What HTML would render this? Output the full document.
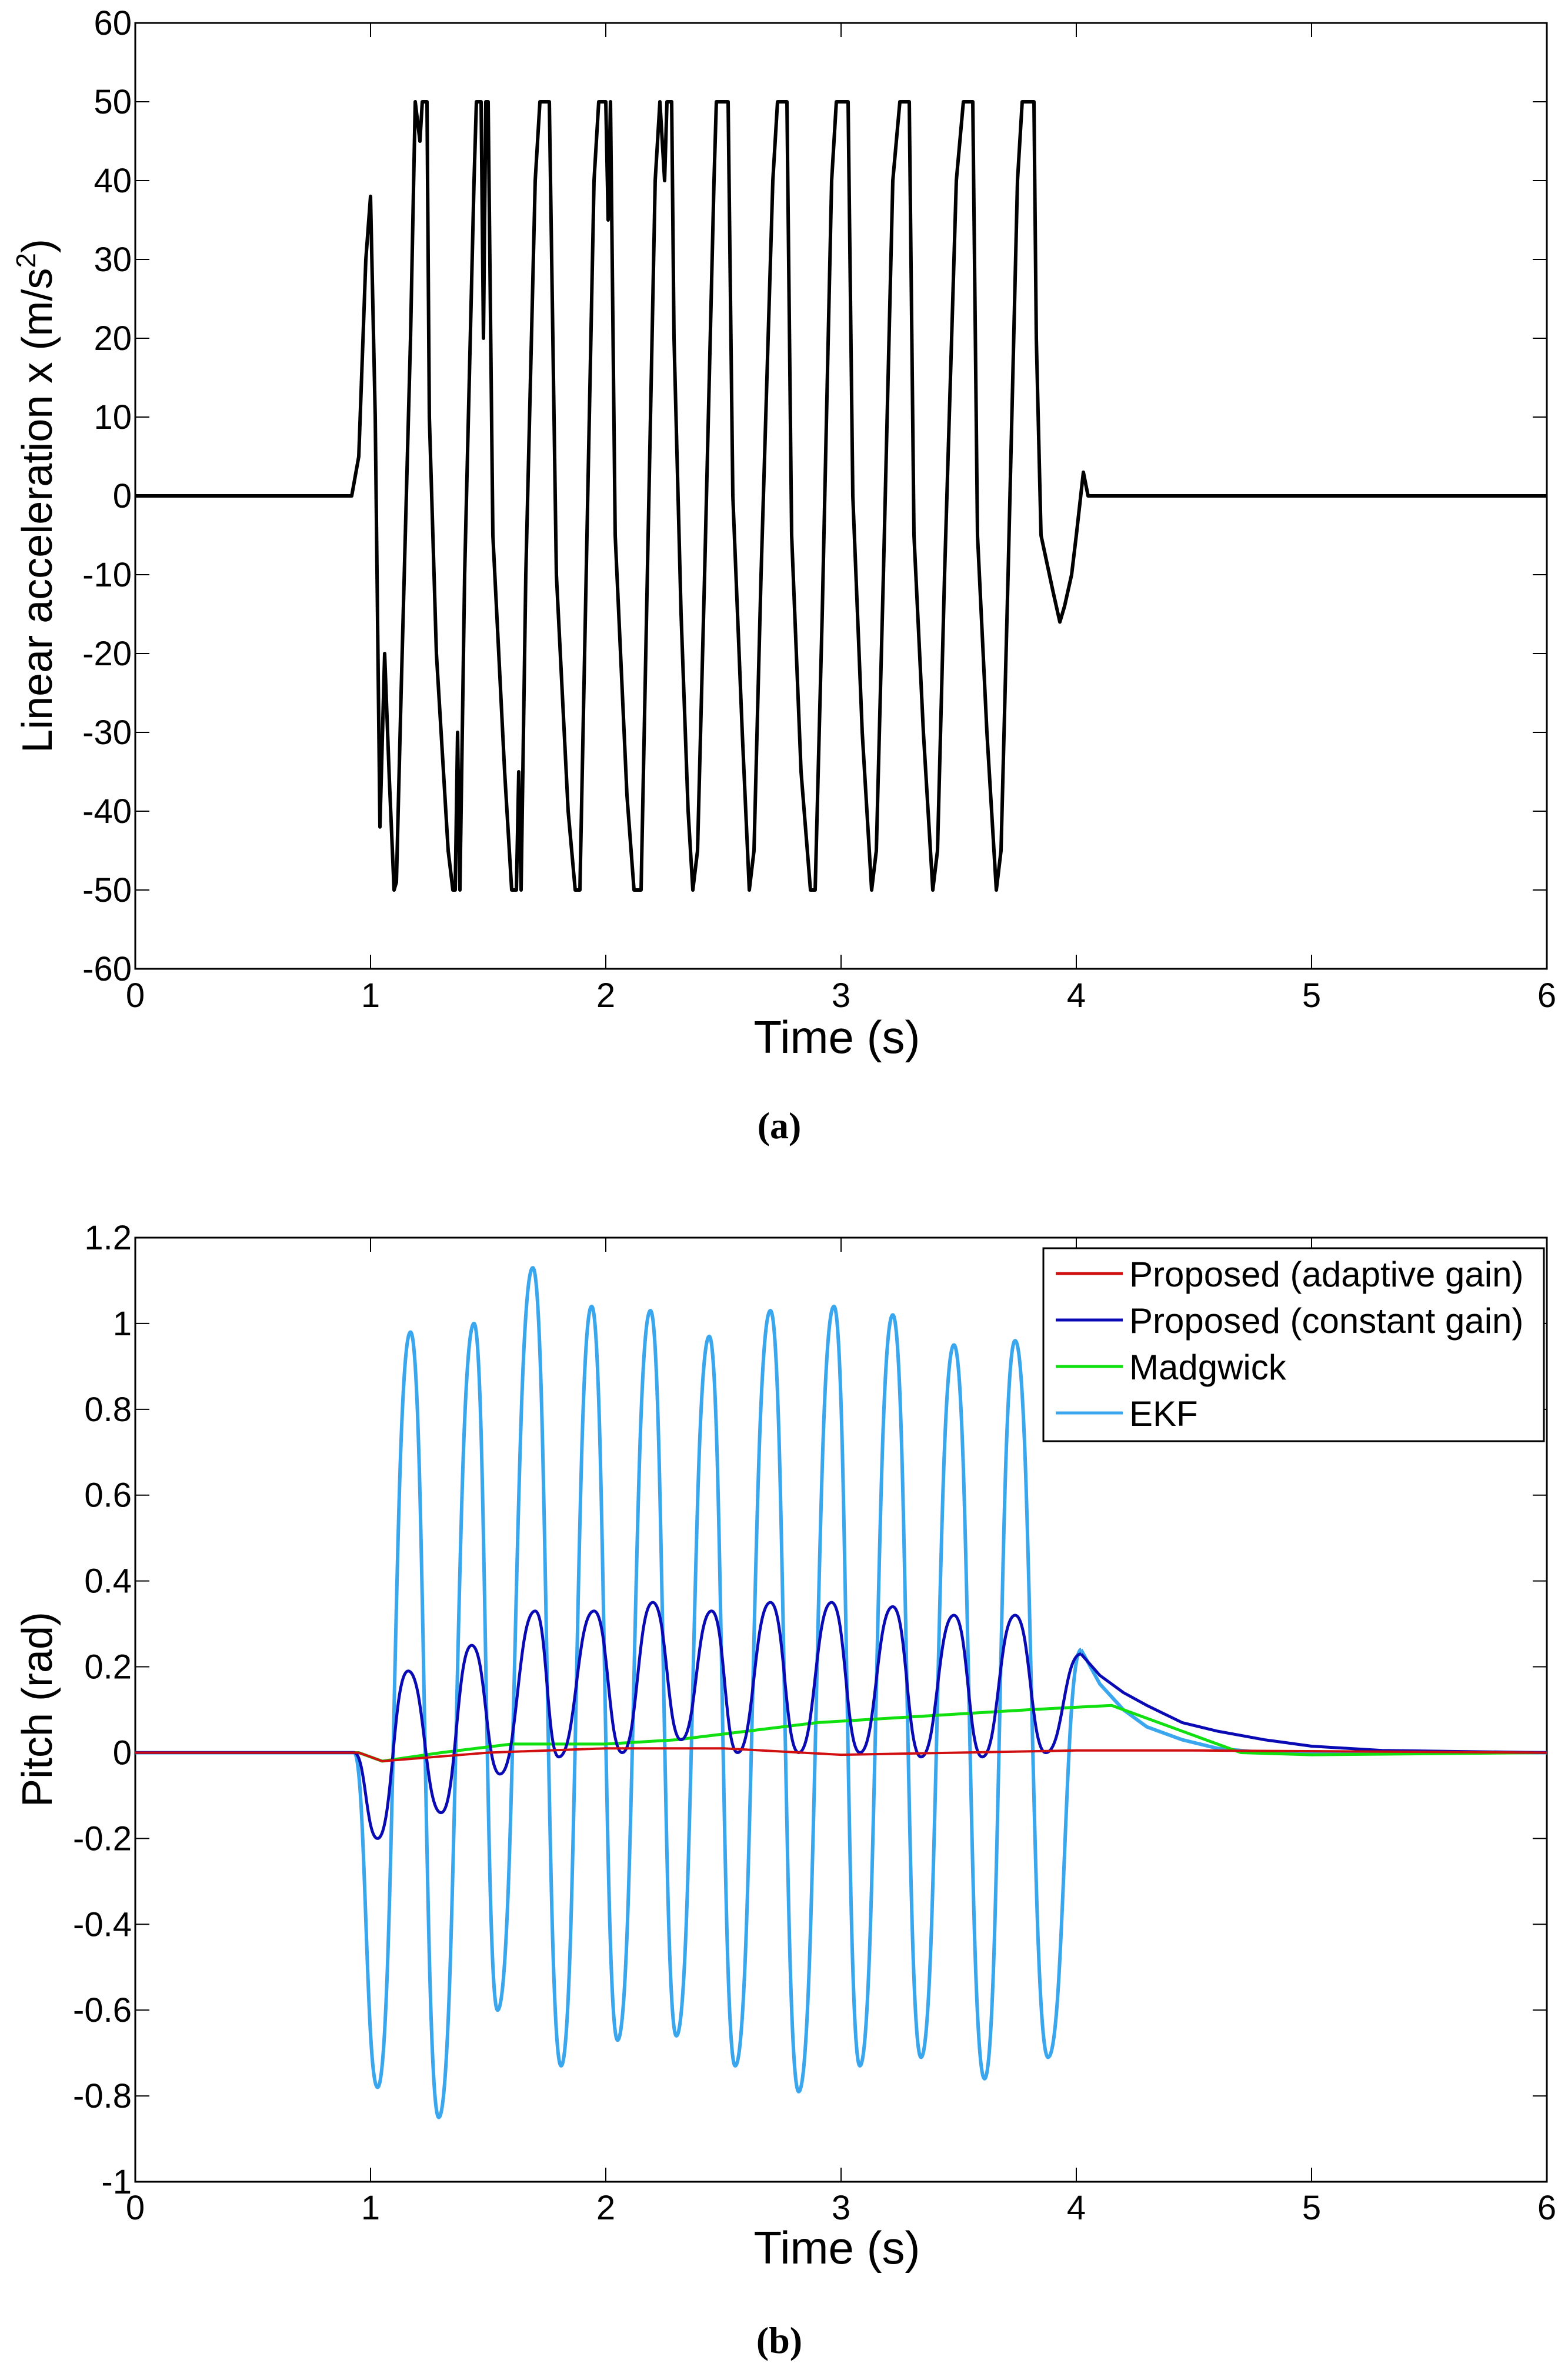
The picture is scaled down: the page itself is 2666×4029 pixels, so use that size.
<!DOCTYPE html>
<html><head><meta charset="utf-8"><style>
html,body{margin:0;padding:0;background:#fff;}
svg{display:block;font-family:"Liberation Sans",Arial,sans-serif;}
</style></head><body>
<svg id="fig" width="2666" height="4029" viewBox="0 0 2666 4029" xmlns="http://www.w3.org/2000/svg">
<rect width="2666" height="4029" fill="#fff"/>
<g id="top"></g>
<g id="bot"></g>
<text x="1325" y="1935" font-family="Liberation Serif,serif" font-weight="bold" font-size="64" text-anchor="middle">(a)</text>
<text x="1325" y="4000" font-family="Liberation Serif,serif" font-weight="bold" font-size="64" text-anchor="middle">(b)</text>
</svg>
<script>
// ---- data: top chart (linear acceleration x) ----
const accT=[0,0.92,0.95,0.98,1.0,1.02,1.04,1.06,1.08,1.1,1.11,1.13,1.17,1.19,1.21,1.22,1.24,1.25,1.28,1.33,1.35,1.36,1.37,1.38,1.40,1.44,1.45,1.47,1.48,1.49,1.5,1.52,1.57,1.6,1.62,1.63,1.64,1.66,1.7,1.72,1.76,1.77,1.79,1.84,1.87,1.89,1.91,1.95,1.97,2.0,2.01,2.02,2.04,2.09,2.12,2.15,2.17,2.21,2.23,2.25,2.26,2.28,2.29,2.32,2.35,2.37,2.39,2.42,2.46,2.47,2.52,2.54,2.58,2.61,2.63,2.66,2.71,2.73,2.77,2.79,2.83,2.87,2.89,2.92,2.96,2.98,3.03,3.05,3.09,3.13,3.15,3.18,3.22,3.25,3.29,3.31,3.35,3.39,3.41,3.44,3.49,3.52,3.56,3.58,3.62,3.66,3.68,3.71,3.75,3.77,3.82,3.83,3.85,3.9,3.93,3.95,3.98,4.0,4.03,4.05,6];
const accV=[0,0,5,30,38,10,-42,-20,-36,-50,-49,-25,20,50,45,50,50,10,-20,-45,-50,-50,-30,-50,-10,40,50,50,20,50,50,-5,-35,-50,-50,-35,-50,-10,40,50,50,30,-10,-40,-50,-50,-20,40,50,50,35,50,-5,-38,-50,-50,-20,40,50,40,50,50,20,-15,-40,-50,-45,-10,40,50,50,0,-30,-50,-45,-10,40,50,50,-5,-35,-50,-50,-15,40,50,50,0,-30,-50,-45,-10,40,50,50,-5,-30,-50,-45,-10,40,50,50,-5,-30,-50,-45,-10,40,50,50,20,-5,-12,-16,-14,-10,-5,3,0,0];
const accTicksY=[-60,-50,-40,-30,-20,-10,0,10,20,30,40,50,60];
const timeTicks=[0,1,2,3,4,5,6];
// ---- data: bottom chart (pitch) ----
const ekfT=[0,0.93,1.03,1.17,1.29,1.44,1.54,1.69,1.81,1.94,2.05,2.19,2.30,2.44,2.55,2.70,2.82,2.97,3.08,3.22,3.34,3.48,3.61,3.74,3.88,4.02];
const ekfV=[0,0,-0.78,0.98,-0.85,1.0,-0.6,1.13,-0.73,1.04,-0.67,1.03,-0.66,0.97,-0.73,1.03,-0.79,1.04,-0.73,1.02,-0.71,0.95,-0.76,0.96,-0.71,0.24];
const ekfTailT=[4.02,4.1,4.2,4.3,4.45,4.6,4.8,6];
const ekfTailV=[0.24,0.16,0.1,0.06,0.03,0.01,0,0];
const constT=[0,0.93,1.03,1.16,1.3,1.43,1.55,1.7,1.8,1.95,2.07,2.2,2.32,2.45,2.56,2.7,2.82,2.96,3.08,3.22,3.34,3.48,3.6,3.74,3.87,4.02];
const constV=[0,0,-0.2,0.19,-0.14,0.25,-0.05,0.33,-0.01,0.33,0,0.35,0.03,0.33,0,0.35,0,0.35,0,0.34,-0.01,0.32,-0.01,0.32,0,0.23];
const constTailT=[4.02,4.1,4.2,4.3,4.45,4.6,4.8,5.0,5.3,6];
const constTailV=[0.23,0.18,0.14,0.11,0.07,0.05,0.03,0.015,0.005,0];
const madT=[0,0.95,1.05,1.3,1.6,2.0,2.3,2.6,2.9,3.2,3.5,3.8,4.15,4.4,4.7,5.0,6];
const madV=[0,0,-0.02,0,0.02,0.02,0.03,0.05,0.07,0.08,0.09,0.1,0.11,0.06,0,-0.005,0];
const adaT=[0,0.95,1.05,1.5,2.0,2.5,3.0,3.5,4.0,4.5,6];
const adaV=[0,0,-0.02,0,0.01,0.01,-0.005,0,0.005,0.005,0];
const pitchTicksY=[-1,-0.8,-0.6,-0.4,-0.2,0,0.2,0.4,0.6,0.8,1,1.2];
const legendLabels=["Proposed (adaptive gain)","Proposed (constant gain)","Madgwick","EKF"];
const legendColors=["#d01010","#0a0ab4","#10e010","#3aa6ee"];

const NS="http://www.w3.org/2000/svg";
function mk(tag,attrs,parent){const e=document.createElementNS(NS,tag);for(const k in attrs)e.setAttribute(k,attrs[k]);parent.appendChild(e);return e;}
function axes(g,L,R,T,B,ymin,ymax,yticks,xTickBase,xlabelY,fmt){
  const sx=t=>L+(t-0)/6*(R-L);
  const sy=v=>B-(v-ymin)/(ymax-ymin)*(B-T);
  const frame=mk('rect',{x:L,y:T,width:R-L,height:B-T,fill:'none',stroke:'#000','stroke-width':3},g);
  
  
  timeTicks.forEach(t=>{
    const x=sx(t);
    mk('line',{x1:x,y1:B,x2:x,y2:B-24,stroke:'#000','stroke-width':2},g);
    mk('line',{x1:x,y1:T,x2:x,y2:T+24,stroke:'#000','stroke-width':2},g);
    const tx=mk('text',{x:x,y:xTickBase,'font-size':58,'text-anchor':'middle'},g);
    
    
    tx.textContent=t;
  });
  yticks.forEach(v=>{
    const y=sy(v);
    mk('line',{x1:L,y1:y,x2:L+24,y2:y,stroke:'#000','stroke-width':2},g);
    mk('line',{x1:R,y1:y,x2:R-24,y2:y,stroke:'#000','stroke-width':2},g);
    const tx=mk('text',{x:L-6,y:y+20,'font-size':58,'text-anchor':'end'},g);
    
    
    tx.textContent=fmt(v);
  });
  const xl=mk('text',{x:1423,y:xlabelY,'font-size':78,'text-anchor':'middle'},g);
  
  
  xl.textContent='Time (s)';
  return {sx,sy};
}
function poly(g,T,V,sx,sy,color,w,name){
  let d='';T.forEach((t,i)=>{d+=(i?'L':'M')+sx(t).toFixed(1)+' '+sy(V[i]).toFixed(1);});
  const p=mk('path',{d:d,fill:'none',stroke:color,'stroke-width':w,'stroke-linejoin':'round'},g);
  
  
}
function smooth(g,T,V,sx,sy,color,w,name){
  let d='M'+sx(T[0])+' '+sy(V[0]);
  for(let i=1;i<T.length;i++){
    const x0=sx(T[i-1]),y0=sy(V[i-1]),x1=sx(T[i]),y1=sy(V[i]),h=(x1-x0)/2;
    d+=`C${(x0+h).toFixed(1)} ${y0.toFixed(1)} ${(x1-h).toFixed(1)} ${y1.toFixed(1)} ${x1.toFixed(1)} ${y1.toFixed(1)}`;
  }
  const p=mk('path',{d:d,fill:'none',stroke:color,'stroke-width':w},g);
  
  
}
// top chart
const gt=document.getElementById('top');
const A=axes(gt,230,2630,39,1647,-60,60,accTicksY,1712,1790,v=>String(v));
poly(gt,accT,accV,A.sx,A.sy,'#000',6,'acceleration-line');
const yl=mk('text',{x:0,y:0,'font-size':72,'text-anchor':'middle',transform:'translate(88,843) rotate(-90)'},gt);


yl.innerHTML='Linear acceleration x (m/s<tspan font-size="46" dy="-28">2</tspan><tspan dy="28">)</tspan>';
// bottom chart
const gb=document.getElementById('bot');
const B=axes(gb,230,2630,2104,3709,-1,1.2,pitchTicksY,3773,3848,v=>String(Math.round(v*10)/10));
smooth(gb,ekfT,ekfV,B.sx,B.sy,legendColors[3],6,'ekf-line');
poly(gb,ekfTailT,ekfTailV,B.sx,B.sy,legendColors[3],6,'ekf-tail-line');
poly(gb,madT,madV,B.sx,B.sy,legendColors[2],5,'madgwick-line');
smooth(gb,constT,constV,B.sx,B.sy,legendColors[1],5,'constant-gain-line');
poly(gb,constTailT,constTailV,B.sx,B.sy,legendColors[1],5,'constant-gain-tail-line');
poly(gb,adaT,adaV,B.sx,B.sy,legendColors[0],4,'adaptive-gain-line');
const yl2=mk('text',{x:0,y:0,'font-size':72,'text-anchor':'middle',transform:'translate(88,2906) rotate(-90)'},gb);


yl2.textContent='Pitch (rad)';
// legend
const lg=mk('g',{},gb);


mk('rect',{x:1774,y:2122,width:851,height:328,fill:'#fff',stroke:'#000','stroke-width':3},lg);
legendLabels.forEach((s,i)=>{
  const y=2165+i*79;
  const e=mk('g',{},lg);
  
  
  mk('line',{x1:1795,y1:y,x2:1909,y2:y,stroke:legendColors[i],'stroke-width':5},e);
  const t=mk('text',{x:1920,y:y+22,'font-size':60},e);
  t.textContent=s;
});
</script>
</body></html>
